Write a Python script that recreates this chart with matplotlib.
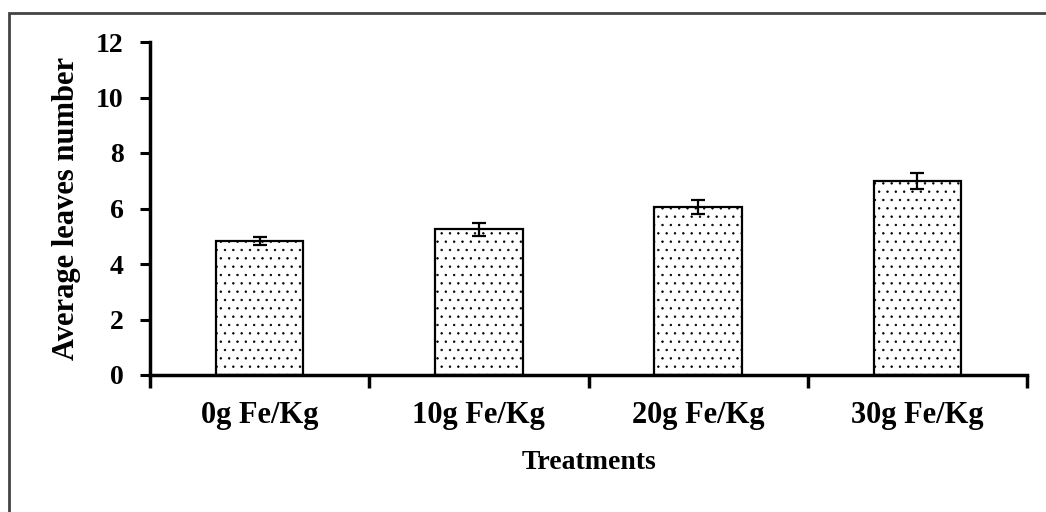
import matplotlib
matplotlib.use("Agg")
import matplotlib.pyplot as plt
from matplotlib.patches import Rectangle

treatments = ["0g Fe/Kg", "10g Fe/Kg", "20g Fe/Kg", "30g Fe/Kg"]
leaves = [4.84, 5.25, 6.04, 6.99]
err = [0.15, 0.24, 0.25, 0.29]

plt.rcParams["font.family"] = ["Liberation Serif", "DejaVu Serif"]
plt.rcParams["font.weight"] = "bold"
plt.rcParams["hatch.linewidth"] = 0.5
plt.rcParams["hatch.color"] = "#444444"

fig = plt.figure(figsize=(10.46, 5.12), dpi=100)
# outer frame (cut off at right and bottom like the original)
fig.patches.append(Rectangle((9 / 1046, -0.1), 1.2, 1 - 13 / 512 + 0.1,
                             transform=fig.transFigure, fill=False,
                             edgecolor="#444444", linewidth=2))

ax = fig.add_axes([150 / 1046, 1 - 375 / 512, 877 / 1046, 333 / 512])
x = range(len(treatments))
ax.bar(x, leaves, width=0.4, color="white", edgecolor="black",
       linewidth=1.6, hatch="..", zorder=2)
ax.errorbar(x, leaves, yerr=err, fmt="none", ecolor="black",
            elinewidth=1.6, capsize=4.7, capthick=1.6, zorder=3)

ax.set_xlim(-0.5, 3.5)
ax.set_ylim(0, 12)
ax.set_yticks(range(0, 13, 2))
ax.set_xticks([-0.5, 0.5, 1.5, 2.5, 3.5])
ax.set_xticklabels([])
ax.set_xticks(list(x), minor=True)
ax.set_xticklabels(treatments, minor=True, fontsize=22, fontweight="bold")
ax.tick_params(axis="x", which="minor", length=0, pad=19)
ax.tick_params(axis="x", which="major", direction="out", length=9, width=2.5)
ax.tick_params(axis="y", direction="out", length=7, width=2.2, labelsize=20, pad=12)
for t in ax.get_yticklabels():
    t.set_fontweight("bold")

for s in ["top", "right"]:
    ax.spines[s].set_visible(False)
for s in ["left", "bottom"]:
    ax.spines[s].set_linewidth(2.5)

ax.set_xlabel("Treatments", fontsize=20, fontweight="bold", labelpad=14)
ax.set_ylabel("Average leaves number", fontsize=22, fontweight="bold", labelpad=11)

fig.savefig("out.png", dpi=100)
